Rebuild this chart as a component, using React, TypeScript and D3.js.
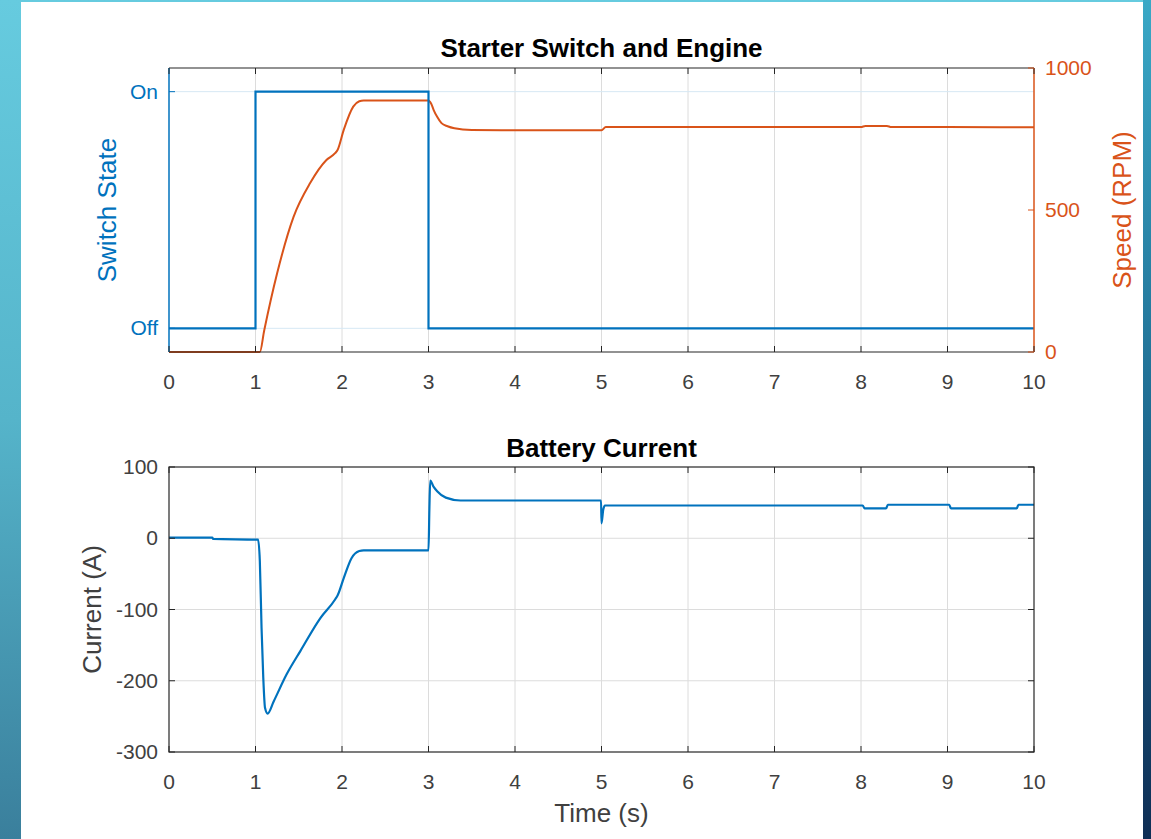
import React from "react";
import * as d3 from "d3";

// Switch state (0 = Off, 1 = On)
const switchT = [0, 1, 1, 3, 3, 10];
const switchV = [0, 0, 1, 1, 0, 0];

// Engine speed (RPM)
const speedT = [0, 1.05, 1.1, 1.25, 1.44, 1.63, 1.82, 1.92, 1.95, 2.02, 2.13, 2.2, 2.25, 3.0, 3.03, 3.06, 3.1, 3.15, 3.22, 3.3, 3.5, 4, 5, 5.05, 8, 8.05, 8.3, 8.35, 9, 10];
const speedV = [0, 0, 75, 277, 476, 594, 676, 700, 712, 782, 864, 883, 886, 886, 875, 852, 828, 806, 795, 788, 782, 781, 781, 792, 792, 796, 796, 792, 792, 791];

// Battery current (A)
const currentT = [0, 0.5, 0.51, 1.03, 1.05, 1.07, 1.09, 1.11, 1.14, 1.21, 1.36, 1.52, 1.75, 1.92, 1.95, 2.02, 2.11, 2.2, 2.25, 3.0, 3.01, 3.02, 3.06, 3.1, 3.2, 3.37, 3.6, 4.995, 5.0, 5.02, 5.04, 5.06, 8.02, 8.04, 8.29, 8.31, 9.02, 9.04, 9.8, 9.82, 10];
const currentV = [1, 1, -1, -2, -32, -126, -196, -238, -246, -229, -191, -158, -112, -86, -80, -56, -28, -18, -17, -17, 40, 81, 72, 66, 57, 53, 53, 53, 21, 40, 46, 46, 46, 42, 42, 47, 47, 42, 42, 47, 47];

const timeTicks = [0, 1, 2, 3, 4, 5, 6, 7, 8, 9, 10];
const switchTicks = [0, 1];
const switchLabels = ["Off", "On"];
const speedTicks = [0, 500, 1000];
const currentTicks = [-300, -200, -100, 0, 100];

const BLUE = "#0072BD";
const ORANGE = "#D95319";
const AXIS = "#262626";
const GRID = "#dcdcdc";
const TEXT = "#404040";
const FONT = "'Liberation Sans', Arial, Helvetica, sans-serif";

export default function App() {
  const W = 1151;
  const H = 839;
  const left = 169;
  const right = 1034;
  const top1 = 68, bot1 = 352;
  const top2 = 467, bot2 = 752;

  const x = d3.scaleLinear().domain([0, 10]).range([left, right]);
  const ySwitch = d3.scaleLinear().domain([-0.1, 1.1]).range([bot1, top1]);
  const ySpeed = d3.scaleLinear().domain([0, 1000]).range([bot1, top1]);
  const yCur = d3.scaleLinear().domain([-300, 100]).range([bot2, top2]);

  const step = d3.line<[number, number]>().x(d => d[0]).y(d => d[1]);
  const smooth = d3.line<[number, number]>().x(d => d[0]).y(d => d[1]).curve(d3.curveMonotoneX);
  const switchPath = step(switchT.map((t, i) => [x(t), ySwitch(switchV[i])]));
  const speedPath = smooth(speedT.map((t, i) => [x(t), ySpeed(speedV[i])]));
  const currentPath = smooth(currentT.map((t, i) => [x(t), yCur(currentV[i])]));

  const tickLen = 6;

  return (
    <svg width={W} height={H} style={{ position: "fixed", left: 0, top: 0 }} fontFamily={FONT}>
      <defs>
        <linearGradient id="lg" x1="0" y1="0" x2="0" y2="1">
          <stop offset="0" stopColor="#66cbdf" />
          <stop offset="0.5" stopColor="#55b4ca" />
          <stop offset="1" stopColor="#3a7f9c" />
        </linearGradient>
        <linearGradient id="rg" x1="0" y1="0" x2="0" y2="1">
          <stop offset="0" stopColor="#3aa8c6" />
          <stop offset="0.5" stopColor="#1f6c92" />
          <stop offset="1" stopColor="#0f2e55" />
        </linearGradient>
      </defs>
      <rect x={0} y={0} width={W} height={H} fill="url(#lg)" />
      <rect x={1143} y={0} width={8} height={H} fill="url(#rg)" />
      <rect x={21} y={2} width={1122} height={H - 2} fill="#ffffff" />

      {/* ---------- Top plot ---------- */}
      <text x={(left + right) / 2} y={57} textAnchor="middle" fontWeight="bold" fontSize={26} fill="#000">
        Starter Switch and Engine
      </text>
      {timeTicks.slice(1, -1).map(t => (
        <line key={`g1-${t}`} x1={x(t)} x2={x(t)} y1={top1} y2={bot1} stroke={GRID} strokeWidth={1} />
      ))}
      {switchTicks.map(v => (
        <line key={`gs-${v}`} x1={left} x2={right} y1={ySwitch(v)} y2={ySwitch(v)} stroke="#d6e8f4" strokeWidth={1} />
      ))}
      <path d={speedPath ?? ""} fill="none" stroke={ORANGE} strokeWidth={2} />
      <path d={switchPath ?? ""} fill="none" stroke={BLUE} strokeWidth={2.2} />
      {/* box */}
      <line x1={left} x2={right} y1={top1} y2={top1} stroke={AXIS} strokeWidth={1.2} />
      <line x1={left} x2={right} y1={bot1} y2={bot1} stroke={AXIS} strokeWidth={1.2} />
      <line x1={left} x2={left} y1={top1} y2={bot1} stroke={BLUE} strokeWidth={1.5} />
      <line x1={right} x2={right} y1={top1} y2={bot1} stroke={ORANGE} strokeWidth={1.5} />
      {timeTicks.map(t => (
        <g key={`xt1-${t}`}>
          <line x1={x(t)} x2={x(t)} y1={bot1} y2={bot1 - tickLen} stroke={AXIS} />
          <line x1={x(t)} x2={x(t)} y1={top1} y2={top1 + tickLen} stroke={AXIS} />
          <text x={x(t)} y={389} textAnchor="middle" fontSize={21} fill={TEXT}>{t}</text>
        </g>
      ))}
      {switchTicks.map((v, i) => (
        <g key={`ys-${v}`}>
          <line x1={left} x2={left + tickLen} y1={ySwitch(v)} y2={ySwitch(v)} stroke={BLUE} />
          <text x={left - 11} y={ySwitch(v) + 7} textAnchor="end" fontSize={21} fill={BLUE}>{switchLabels[i]}</text>
        </g>
      ))}
      {speedTicks.map(v => (
        <g key={`yr-${v}`}>
          <line x1={right} x2={right - tickLen} y1={ySpeed(v)} y2={ySpeed(v)} stroke={ORANGE} />
          <text x={right + 11} y={ySpeed(v) + 7} textAnchor="start" fontSize={21} fill={ORANGE}>{v}</text>
        </g>
      ))}
      <text transform={`translate(116, ${(top1 + bot1) / 2}) rotate(-90)`} textAnchor="middle" fontSize={26} fill={BLUE}>
        Switch State
      </text>
      <text transform={`translate(1131, ${(top1 + bot1) / 2}) rotate(-90)`} textAnchor="middle" fontSize={26} fill={ORANGE}>
        Speed (RPM)
      </text>

      {/* ---------- Bottom plot ---------- */}
      <text x={(left + right) / 2} y={457} textAnchor="middle" fontWeight="bold" fontSize={26} fill="#000">
        Battery Current
      </text>
      {timeTicks.slice(1, -1).map(t => (
        <line key={`g2-${t}`} x1={x(t)} x2={x(t)} y1={top2} y2={bot2} stroke={GRID} strokeWidth={1} />
      ))}
      {currentTicks.slice(1, -1).map(v => (
        <line key={`gc-${v}`} x1={left} x2={right} y1={yCur(v)} y2={yCur(v)} stroke={GRID} strokeWidth={1} />
      ))}
      <path d={currentPath ?? ""} fill="none" stroke={BLUE} strokeWidth={2.2} />
      <rect x={left} y={top2} width={right - left} height={bot2 - top2} fill="none" stroke={AXIS} strokeWidth={1.2} />
      {timeTicks.map(t => (
        <g key={`xt2-${t}`}>
          <line x1={x(t)} x2={x(t)} y1={bot2} y2={bot2 - tickLen} stroke={AXIS} />
          <line x1={x(t)} x2={x(t)} y1={top2} y2={top2 + tickLen} stroke={AXIS} />
          <text x={x(t)} y={789} textAnchor="middle" fontSize={21} fill={TEXT}>{t}</text>
        </g>
      ))}
      {currentTicks.map(v => (
        <g key={`yc-${v}`}>
          <line x1={left} x2={left + tickLen} y1={yCur(v)} y2={yCur(v)} stroke={AXIS} />
          <line x1={right} x2={right - tickLen} y1={yCur(v)} y2={yCur(v)} stroke={AXIS} />
          <text x={left - 11} y={yCur(v) + 7} textAnchor="end" fontSize={21} fill={TEXT}>{v}</text>
        </g>
      ))}
      <text transform={`translate(101, ${(top2 + bot2) / 2}) rotate(-90)`} textAnchor="middle" fontSize={26} fill={TEXT}>
        Current (A)
      </text>
      <text x={(left + right) / 2} y={822} textAnchor="middle" fontSize={26} fill={TEXT}>
        Time (s)
      </text>
    </svg>
  );
}
